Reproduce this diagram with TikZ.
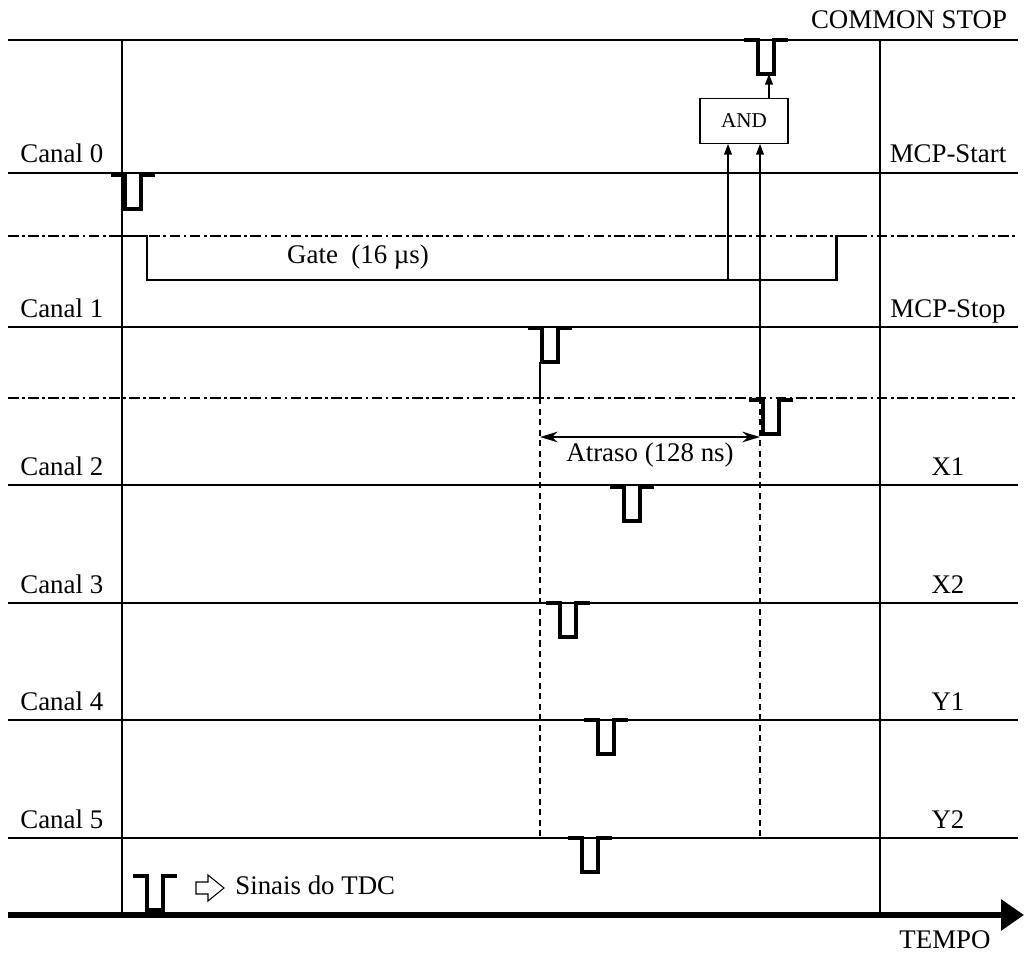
\documentclass[tikz,border=0pt]{standalone}
\usepackage{fontspec}
\setmainfont{Liberation Serif}
\usepackage{tikz}
\usetikzlibrary{positioning, arrows.meta}

\begin{document}
\begin{tikzpicture}[
        x=0.02cm, y=-0.02cm,
        linha/.style={line width=1.1pt, black},
        tracejada/.style={line width=0.6pt, dash pattern=on 6pt off 2pt on 1.5pt off 2pt},
        marca/.style={line width=0.6pt, dash pattern=on 3.5pt off 2.5pt},
        borda/.style={line width=1.3pt},
        pulse/.style={line width=2.8pt, line join=miter},
        gate/.style={line width=1.7pt, line join=miter},
        sinal/.style={-{Triangle[length=6pt,width=4.5pt]}, line width=0.6pt},
        rot/.style={font=\fontsize{15.3}{18}\selectfont, inner sep=0pt},
        porta/.style={rectangle, draw, line width=0.6pt, minimum width=1.76cm,
          minimum height=0.9cm, font=\fontsize{12}{14}\selectfont},
        pulso/.pic={\draw[pulse] (-22,0) -- (-8,0) -- (-8,34) -- (8,34) -- (8,0) -- (22,0);},
      ]
        \useasboundingbox (0,0) rectangle (1024,956);

        % linhas dos canais
        \draw[linha] (8,40) -- (1018,40);
        \node[rot, anchor=base] (cstop) at (909,29) {COMMON STOP};
        \foreach \i/\y/\dir in {0/173/MCP-Start, 1/327/MCP-Stop, 2/485/X1,
                                3/603/X2, 4/720/Y1, 5/838/Y2} {
          \draw[linha] (8,\y) -- (1018,\y);
          \node[rot, anchor=base west] (canal\i) at (20,\y-10) {Canal \i};
          \node[rot, anchor=base] (dir\i) at (948,\y-10) {\dir};
        }
        \draw[tracejada] (8,236) -- (1018,236);
        \draw[tracejada] (8,398) -- (1018,398);

        \draw[borda] (122,40) -- (122,915);
        \draw[borda] (880,40) -- (880,915);

        % pulsos
        \pic at (133,175) {pulso};
        \pic at (550,328) {pulso};
        \pic at (771,400) {pulso};
        \pic at (632,487) {pulso};
        \pic at (568,603) {pulso};
        \pic at (606,720) {pulso};
        \pic at (590,838) {pulso};
        \pic at (766,40) {pulso};

        \draw[gate] (118,236) -- (147,236) -- (147,280) -- (836,280) -- (836,236) -- (865,236);
        \node[rot, anchor=base] (gate) at (358,263) {Gate\ \ (16 µs)};

        \node[porta] (e) at (744,121) {AND};
        \coordinate (gfim) at (728,280);
        \coordinate (p2) at (760,400);
        \coordinate (cs) at (769,74);
        \draw[sinal] (gfim) -- (gfim |- e.south);
        \draw[sinal] (p2) -- (p2 |- e.south);
        \draw[sinal] (cs |- e.north) -- (cs);

        % atraso
        \coordinate (a1) at (540,362);
        \coordinate (a2) at (760,398);
        \draw[line width=0.6pt] (a1) -- (540,398);
        \draw[marca] (540,398) -- (540,838);
        \draw[marca] (a2) -- (760,838);
        \draw[{Stealth[length=10pt,width=6pt]}-{Stealth[length=10pt,width=6pt]}, line width=1.3pt]
          (540,437) -- (760,437);
        \node[rot, anchor=base] (atraso) at (650,461) {Atraso (128 ns)};

        % legenda
        \pic at (155,876) {pulso};
        \draw[line width=0.6pt] (196,882) -- (208,882) -- (208,875) -- (224,888)
          -- (208,901) -- (208,894) -- (196,894) -- cycle;
        \node[rot, anchor=base west] (leg) at (235,894) {Sinais do TDC};

        % eixo do tempo
        \draw[line width=3.4pt, -{Triangle[length=13pt,width=17pt]}] (8,915) -- (1024,915);
        \node[rot, anchor=base] (tempo) at (945,948) {TEMPO};
      \end{tikzpicture}
\end{document}
